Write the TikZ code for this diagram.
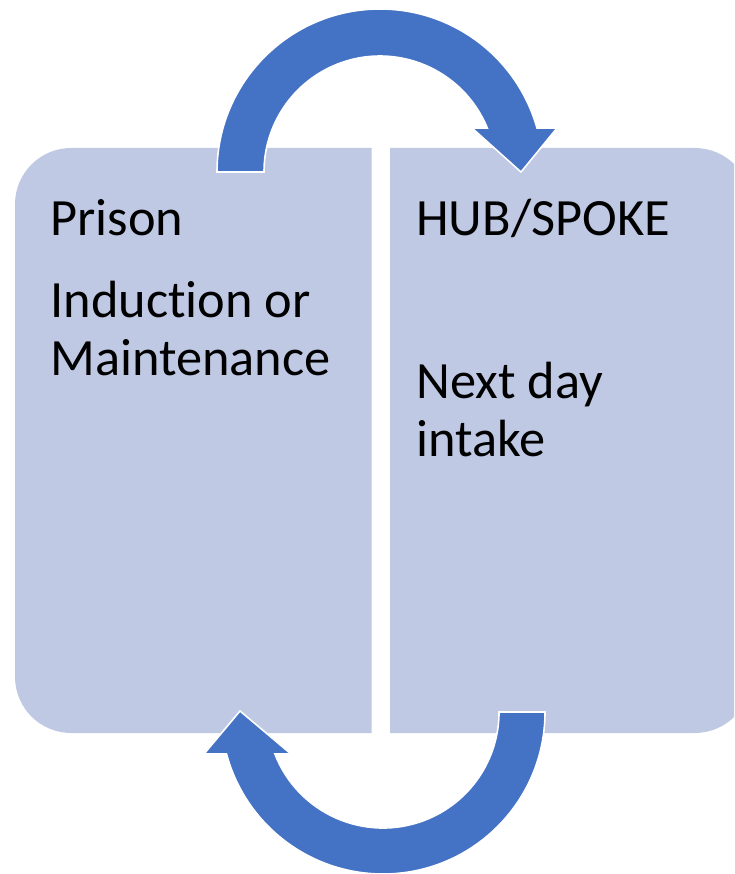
\documentclass[tikz,border=0pt]{standalone}
\usepackage{fontspec}
\setmainfont[Ligatures={NoCommon}]{Carlito}
\usepackage{tikz}
\usetikzlibrary{positioning}
\definecolor{boxblue}{RGB}{191,201,228}
\definecolor{arrowblue}{RGB}{68,114,196}

\begin{document}
\begin{tikzpicture}[x=0.02cm,y=-0.02cm,
  lbl/.style={anchor=base west,inner sep=0pt,font=\fontsize{29.8}{34}\selectfont},
  bigarrow/.style={fill=arrowblue,draw=white,line width=0.9pt,line join=miter}]
\useasboundingbox (0,0) rectangle (734,874);
% left panel, rounded on its left side
\begin{scope}
\clip (0,0) rectangle (371.5,874);
\fill [boxblue,rounded corners=32pt] (15,148) rectangle (470,733);
\end{scope}
% right panel, rounded on its right side
\begin{scope}
\clip (390,0) rectangle (734,874);
\fill [boxblue,rounded corners=32pt] (300,148) rectangle (751,733);
\end{scope}
% top arrow, left panel to right panel
\draw [bigarrow] (217,172) arc [start angle=180,end angle=344.34,radius=163]
  -- (557,128) -- (521,172) -- (472,128) -- (487.3,128)
  arc [start angle=337.7,end angle=180,radius=116] -- cycle;
% bottom arrow, back to the left panel
\draw [bigarrow] (545,712) arc [start angle=0,end angle=164.97,radius=162]
  -- (204,754) -- (240,711) -- (291,754) -- (274.9,754)
  arc [start angle=158.77,end angle=0,radius=116] -- cycle;
\node [lbl] (prison) at (50,235.7) {Prison};
\node [lbl] (induction) at (50,317.7) {Induction or};
\node [lbl] (maint) at (50,375) {Maintenance};
\node [lbl] (hub) at (416,235.7) {HUB/SPOKE};
\node [lbl] (nextday) at (416,398) {Next day};
\node [lbl] (intake) at (416,456.7) {intake};
\end{tikzpicture}
\end{document}
